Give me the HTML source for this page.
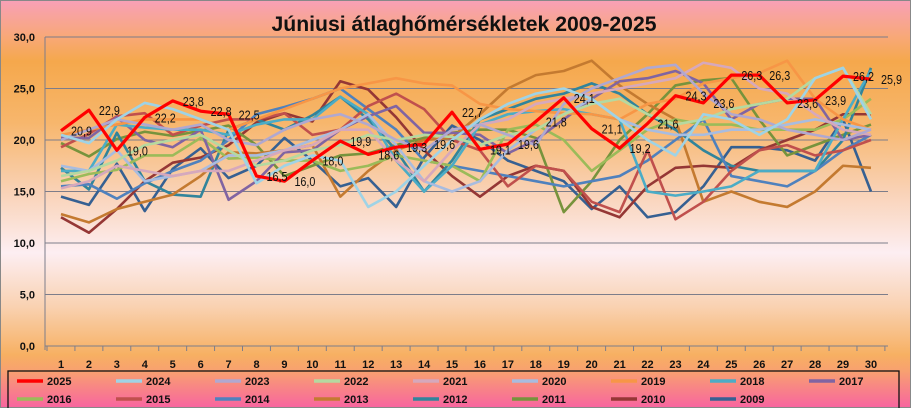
<!DOCTYPE html>
<html><head><meta charset="utf-8"><style>
html,body{margin:0;padding:0}
body{width:911px;height:408px;overflow:hidden;font-family:"Liberation Sans",sans-serif}
</style></head><body>
<svg id="s" width="911" height="408" xmlns="http://www.w3.org/2000/svg">
<defs><linearGradient id="bg" x1="0" y1="0" x2="0" y2="1">
<stop offset="0" stop-color="#f8a0b8"/><stop offset="0.09" stop-color="#f8a878"/>
<stop offset="0.15" stop-color="#f5a84c"/><stop offset="0.3" stop-color="#f7b66c"/>
<stop offset="0.47" stop-color="#f9d2b6"/><stop offset="0.62" stop-color="#fdeef2"/>
<stop offset="0.75" stop-color="#f9d2b2"/><stop offset="0.87" stop-color="#f7b062"/>
<stop offset="0.91" stop-color="#f8a070"/><stop offset="1" stop-color="#f864a0"/>
</linearGradient></defs>
<rect width="911" height="408" fill="url(#bg)" stroke="#888" stroke-width="2"/>
<text x="464" y="31" text-anchor="middle" font-size="21" font-weight="bold" textLength="385" lengthAdjust="spacingAndGlyphs" fill="#111">Júniusi átlaghőmérsékletek  2009-2025</text>
<g id="grid"></g><g id="lines"></g><g id="labels"></g>
<rect x="8" y="371" width="891" height="40" fill="none" stroke="#111" stroke-width="1.3"/>
<g id="leg"></g>
</svg>
<script>
const ns="http://www.w3.org/2000/svg";
function el(t,a,p,txt){const e=document.createElementNS(ns,t);for(const k in a)e.setAttribute(k,a[k]);if(txt!=null)e.textContent=txt;document.getElementById(p).appendChild(e);return e;}
const X=d=>61+(d-1)*27.93, Y=v=>346-10.3*v;
for(let v=0;v<=30;v+=5){
 el('line',{x1:45,x2:888,y1:Y(v),y2:Y(v),stroke:'#7d7d8a','stroke-width':1},'grid');
 el('text',{x:35,y:Y(v)+4,'text-anchor':'end','font-size':11,'font-weight':'bold',fill:'#111'},'grid',v.toFixed(1).replace('.',','));
}
el('line',{x1:45,x2:45,y1:Y(30),y2:350,stroke:'#7d7d8a'},'grid');
for(let i=0;i<=30;i++){const x=47+i*27.93;el('line',{x1:x,x2:x,y1:346,y2:351,stroke:'#7d7d8a'},'grid');}
for(let d=1;d<=30;d++)el('text',{x:X(d),y:368,'text-anchor':'middle','font-size':11,'font-weight':'bold',fill:'#111'},'grid',d);
const S=[
["2024","#9fd3e6",[20.5,19.7,22,23.6,23,22,21,15.8,17.5,18.5,18,13.5,15,17.5,20,22,23.5,24.5,25,24,22,20,18.5,22.5,22,20.5,22,26,27,22]],
["2023","#b0a8d0",[20,21,22,21.5,21,21.5,20,19.5,21,22,22.5,21.5,20,19,21,21.5,20.5,19.5,23.5,25,26,27,27.3,24.5,22.5,22,21,20.5,20,21]],
["2022","#b5d9a0",[16.5,17,18,19.5,20,20.5,19,17.5,18,19,19.5,20.5,20,20.5,20.3,19.5,20.5,21,22.5,23.5,24,22.5,21.5,22,23,23.5,24,26,27,22.5]],
["2021","#d6a8bc",[15.3,16,17.5,17,16.5,17,17,18,19,19.5,21,21,18,16,19,21.5,22,23.5,24,24.5,25,25.5,26,27.5,27,25,24.5,22.5,21,20.5]],
["2020","#a8bce0",[17.5,17,19,16,16.5,17,18.5,18.5,19,20,21,22.5,19.5,16,15,16,19,21,22.5,24,22,21,20.5,20.5,21,21,21.5,22,21.5,21]],
["2019","#f79646",[20.5,21,21.5,22,22,22,21,22,23,24,25,25.5,26,25.5,25.3,23.5,23,22.8,22.6,22.5,22,23.5,24,25.5,26,26.5,27.7,24,22,21]],
["2018","#4bacc6",[17,17,21.5,21.2,21,21,20.5,21.5,22,22,24.2,22.5,18,15,17.5,21.5,22.5,22.8,23,22.5,22,15,14.6,15,15.5,17,17,17,22,26.8]],
["2017","#8064a2",[20.2,20.2,22.2,20,19.3,21,14.2,16,18.8,19,21,22.3,23.3,20.7,20.7,20.5,18.7,20,22,24,25.7,26,26.7,25.5,22,23.5,24,24,20,20.5]],
["2016","#9bbb59",[16,16.7,17.1,18.5,18.5,20.2,18.2,18.3,18,18,17,17.5,18.5,18,17.5,16,21,21.5,20,17,19,21,22,21.5,21.5,21,21,21,22,24]],
["2015","#c0504d",[19.3,20.6,22.3,22.6,20.5,21.4,22,22,22.6,20.5,21,23.3,24.5,23,20,19,15.5,17.5,17,14,13,19,12.3,14,17,19,19.5,18.5,19,20]],
["2014","#4f81bd",[15.5,15.7,14.3,15.8,17,18,20,22.5,23.2,24,25,23,21,18,17.5,17,16.5,16,15.5,16,16.5,18,20,22,16.5,16,15.5,17,19,20.5]],
["2013","#c47a30",[12.8,12,13.3,14,14.7,16.5,18.8,18.7,19,19.5,14.5,17,19,20,20.2,22.5,25,26.3,26.7,27.7,25.3,23.5,22,14,15,14,13.5,15,17.5,17.3]],
["2012","#31849b",[17.3,15.2,20.7,16,14.7,14.5,21,22,21,22.4,24.2,22,19,15,18,22,23,24,24.5,25.5,24.5,22.5,21,19,17.5,17,17,17,20,27]],
["2011","#77933c",[19.7,18.4,20.1,20.8,20.4,20.9,21.4,19.5,16.5,17.5,18.5,18.7,19.5,20.2,20.7,21,21,20.2,13,16,20,22.5,25.3,25.8,26,22,18.5,19.5,20.5,21.5]],
["2010","#953735",[12.5,11,13.3,16,17.8,18.3,19.5,21.7,22.6,21.8,25.7,24.9,22.2,19,16.5,14.5,16.5,17.5,17,13.5,12.5,15.5,17.3,17.5,17.3,19,20,21,22.5,22.5]],
["2009","#366092",[14.5,13.7,17.7,13.1,17.2,19.2,16.3,17.5,20.2,18,15.5,16.3,13.5,18.3,21.4,20,18,17,16,13.3,15.5,12.5,13,15.5,19.3,19.3,19,18,22,15]]
];
const r=[20.9,22.9,19.0,22.2,23.8,22.8,22.5,16.5,16.0,18.0,19.9,18.6,19.3,19.6,22.7,19.1,19.6,21.8,24.1,21.1,19.2,21.6,24.3,23.6,26.3,26.3,23.6,23.9,26.2,25.9];
for(let i=S.length-1;i>=0;i--){const s=S[i];el('polyline',{points:s[2].map((v,j)=>X(j+1)+','+Y(v)).join(' '),fill:'none',stroke:s[1],'stroke-width':2.6,'stroke-linejoin':'round'},'lines');}
el('polyline',{points:r.map((v,j)=>X(j+1)+','+Y(v)).join(' '),fill:'none',stroke:'#ff0000','stroke-width':3.2,'stroke-linejoin':'round'},'lines');
r.forEach((v,j)=>el('text',{x:X(j+1)+10,y:Y(v)+5,'font-size':12.5,fill:'#111',textLength:21,lengthAdjust:'spacingAndGlyphs'},'labels',v.toFixed(1).replace('.',',')));
const L=[["2025","#ff0000"]].concat(S.map(s=>[s[0],s[1]]));
L.forEach((l,i)=>{const c=i%9,row=Math.floor(i/9),x=17+c*99,y=381+row*18;
 el('line',{x1:x,x2:x+26,y1:y,y2:y,stroke:l[1],'stroke-width':3.5},'leg');
 el('text',{x:x+30,y:y+4,'font-size':11,'font-weight':'bold',fill:'#111'},'leg',l[0]);});
</script>
</body></html>
